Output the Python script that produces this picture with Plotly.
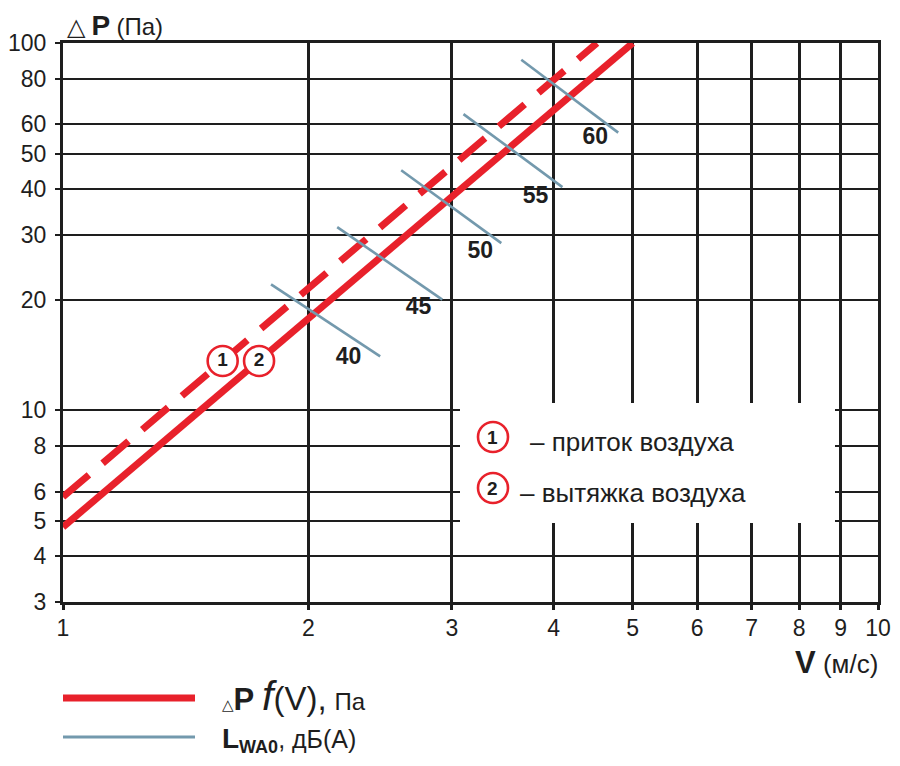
import plotly.graph_objects as go

# ---------------- data ----------------
v_ticks = [1, 2, 3, 4, 5, 6, 7, 8, 9, 10]
dp_ticks = [3, 4, 5, 6, 8, 10, 20, 30, 40, 50, 60, 80, 100]

# (1) supply air - dashed, (2) exhaust air - solid
supply_v = [1.0, 4.52]
supply_dp = [5.8, 100.0]
exhaust_v = [1.0, 5.0]
exhaust_dp = [4.8, 100.0]

# sound power iso-lines L_WA0, dB(A)
lwa_levels = [40, 45, 50, 55, 60]
lwa_v_start = [1.80, 2.17, 2.60, 3.10, 3.65]
lwa_dp_start = [22.0, 31.5, 45.0, 64.0, 90.0]
lwa_v_end = [2.45, 2.92, 3.45, 4.10, 4.80]
lwa_dp_end = [14.0, 20.0, 28.5, 40.5, 57.0]
lwa_label_v = [2.24, 2.73, 3.25, 3.80, 4.50]
lwa_label_dp = [13.8, 19.0, 26.9, 37.9, 55.0]

# circled curve markers
curve_ids = ["1", "2"]
curve_id_v = [1.57, 1.74]
curve_id_dp = [13.6, 13.6]

legend_texts = ["– приток воздуха", "– вытяжка воздуха"]

RED = "#e8212b"
BLUE = "#7399ad"
INK = "#1e1e1e"
FONT = "Liberation Sans, Arial, DejaVu Sans, sans-serif"

fig = go.Figure()

fig.add_trace(go.Scatter(x=supply_v, y=supply_dp, mode="lines",
                         line=dict(color=RED, width=7, dash="34px,18px"),
                         hoverinfo="skip", showlegend=False))
fig.add_trace(go.Scatter(x=exhaust_v, y=exhaust_dp, mode="lines",
                         line=dict(color=RED, width=7),
                         hoverinfo="skip", showlegend=False))

bx, by = [], []
for xs, ys, xe, ye in zip(lwa_v_start, lwa_dp_start, lwa_v_end, lwa_dp_end):
    bx += [xs, xe, None]
    by += [ys, ye, None]
fig.add_trace(go.Scatter(x=bx, y=by, mode="lines",
                         line=dict(color=BLUE, width=2.6),
                         hoverinfo="skip", showlegend=False))

fig.add_trace(go.Scatter(x=lwa_label_v, y=lwa_label_dp, mode="text",
                         text=[f"<b>{l}</b>" for l in lwa_levels],
                         textfont=dict(family=FONT, size=23, color=INK),
                         hoverinfo="skip", showlegend=False))

fig.add_trace(go.Scatter(x=curve_id_v, y=curve_id_dp, mode="markers+text",
                         marker=dict(size=30, color="white",
                                     line=dict(color=RED, width=2.6)),
                         text=[f"<b>{c}</b>" for c in curve_ids],
                         textposition="middle center",
                         textfont=dict(family=FONT, size=19, color=INK),
                         hoverinfo="skip", showlegend=False))

# ---------------- layout ----------------
OFF = 8  # page body margin
W, H = 900 - OFF, 766 - OFF
L, R, T, B = 55, 22, 35, 164
pw, ph = W - L - R, H - T - B


def px2paper(sx, sy):
    fx, fy = sx - OFF, sy - OFF
    return (fx - L) / pw, (H - B - fy) / ph


shapes = []
annotations = []

# legend box inside plot
bx0, by0 = px2paper(460, 523)
bx1, by1 = px2paper(835, 403)
shapes.append(dict(type="rect", xref="paper", yref="paper",
                   x0=bx0, x1=bx1, y0=by0, y1=by1,
                   fillcolor="white", line=dict(width=0), layer="above"))

rad = 15
for i, (cid, txt) in enumerate(zip(curve_ids, legend_texts)):
    cy = 437 + i * 51
    cx = 493
    x0, y0 = px2paper(cx - rad, cy + rad)
    x1, y1 = px2paper(cx + rad, cy - rad)
    shapes.append(dict(type="circle", xref="paper", yref="paper",
                       x0=x0, x1=x1, y0=y0, y1=y1, fillcolor="white",
                       line=dict(color=RED, width=2.6), layer="above"))
    ax_, ay_ = px2paper(cx, cy)
    annotations.append(dict(xref="paper", yref="paper", x=ax_, y=ay_,
                            text=f"<b>{cid}</b>", showarrow=False,
                            font=dict(family=FONT, size=19, color=INK),
                            xanchor="center", yanchor="middle"))
    tx, ty = px2paper(528 - 10 * i, cy + 5)
    annotations.append(dict(xref="paper", yref="paper", x=tx, y=ty,
                            text=txt, showarrow=False,
                            font=dict(family=FONT, size=26, color=INK),
                            xanchor="left", yanchor="middle"))

# axis titles
tx, ty = px2paper(66, 26)
annotations.append(dict(xref="paper", yref="paper", x=tx, y=ty,
                        text="<span style='font-size:24px'>△</span> "
                             "<b><span style='font-size:28px'>P</span></b> "
                             "<span style='font-size:24px'>(Па)</span>",
                        showarrow=False, xanchor="left", yanchor="middle",
                        borderpad=0,
                        font=dict(family=FONT, size=22, color=INK)))
tx, ty = px2paper(880, 662)
annotations.append(dict(xref="paper", yref="paper", x=tx, y=ty,
                        text="<b><span style='font-size:31px'>V</span></b> "
                             "<span style='font-size:26px'>(м/с)</span>",
                        showarrow=False, xanchor="right", yanchor="middle",
                        font=dict(family=FONT, size=26, color=INK)))

# bottom legend
lx0, ly = px2paper(63, 698)
lx1, _ = px2paper(195, 698)
shapes.append(dict(type="line", xref="paper", yref="paper",
                   x0=lx0, x1=lx1, y0=ly, y1=ly, line=dict(color=RED, width=7)))
_, ly2 = px2paper(63, 737)
shapes.append(dict(type="line", xref="paper", yref="paper",
                   x0=lx0, x1=lx1, y0=ly2, y1=ly2, line=dict(color=BLUE, width=3)))

tx, ty = px2paper(220, 696)
annotations.append(dict(xref="paper", yref="paper", x=tx, y=ty,
                        text="<span style='font-size:15px'>△</span>"
                             "<b><span style='font-size:31px'>P</span></b> "
                             "<i><span style='font-size:41px'>f</span></i>"
                             "<span style='font-size:33px'>(V),</span> "
                             "<span style='font-size:24px'>Па</span>",
                        showarrow=False, xanchor="left", yanchor="middle",
                        font=dict(family=FONT, size=28, color=INK)))
tx, ty = px2paper(220, 740)
annotations.append(dict(xref="paper", yref="paper", x=tx, y=ty,
                        text="<b><span style='font-size:28px'>L</span>"
                             "<sub><span style='font-size:18px'>WA0</span></sub></b>"
                             "<span style='font-size:25px'>, дБ(A)</span>",
                        showarrow=False, xanchor="left", yanchor="middle",
                        font=dict(family=FONT, size=25, color=INK)))

fig.update_layout(
    width=W, height=H,
    margin=dict(l=L, r=R, t=T, b=B, pad=0, autoexpand=False),
    paper_bgcolor="white", plot_bgcolor="white",
    shapes=shapes, annotations=annotations,
    font=dict(family=FONT, size=23, color=INK),
)
fig.update_xaxes(type="log", range=[0, 1], tickvals=v_ticks,
                 ticktext=[str(v) for v in v_ticks],
                 showgrid=True, gridcolor=INK, gridwidth=3,
                 showline=True, linecolor=INK, linewidth=3, mirror=True,
                 ticks="outside", ticklen=5, tickwidth=3, tickcolor=INK,
                 ticklabelstandoff=-2, automargin=False,
                 tickfont=dict(family=FONT, size=23, color=INK),
                 zeroline=False, fixedrange=True)
fig.update_yaxes(type="log", range=[0.47712125, 2], tickvals=dp_ticks,
                 ticktext=[str(v) for v in dp_ticks],
                 showgrid=True, gridcolor=INK, gridwidth=2,
                 showline=True, linecolor=INK, linewidth=3, mirror=True,
                 ticks="outside", ticklen=5, tickwidth=2, tickcolor=INK,
                 ticklabelstandoff=4, automargin=False,
                 tickfont=dict(family=FONT, size=23, color=INK),
                 zeroline=False, fixedrange=True)

fig.write_html("out.html")
